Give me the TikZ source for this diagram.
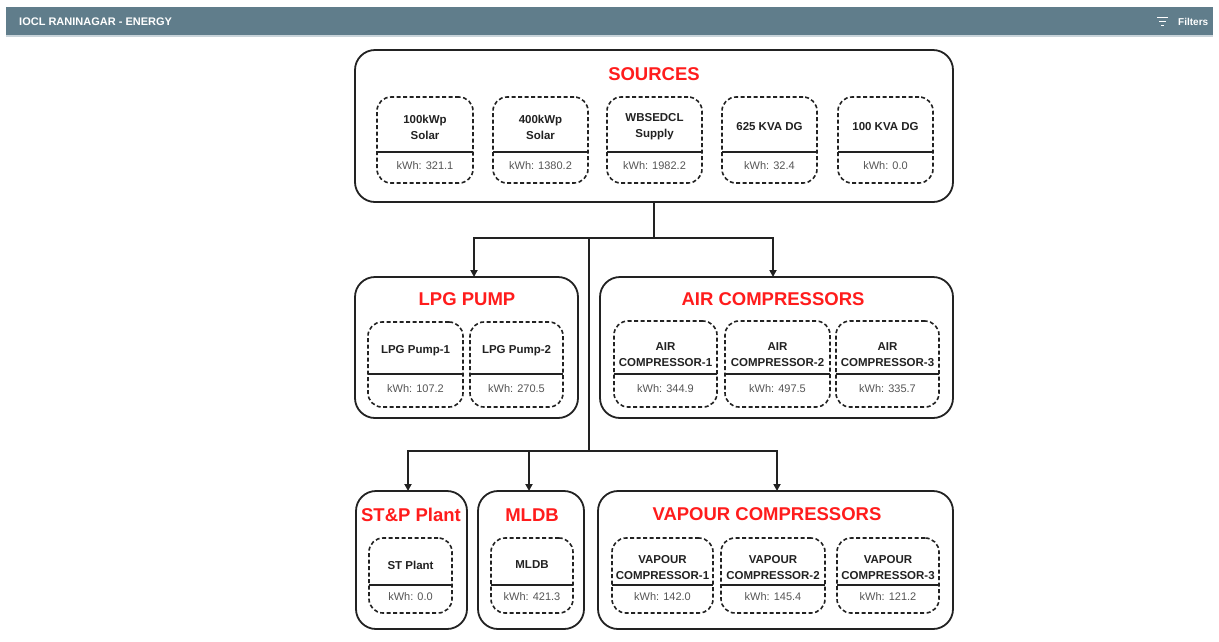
\documentclass[tikz,border=0pt]{standalone}
\usepackage{fontspec}
\setmainfont{Liberation Sans}
\usetikzlibrary{arrows.meta}
\definecolor{hdr}{HTML}{607D8B}
\definecolor{hdrline}{HTML}{C9D4DA}
\definecolor{ink}{HTML}{222222}
\definecolor{ttl}{HTML}{FF1C1C}
\definecolor{valc}{HTML}{555555}
\tikzset{
 outerbox/.style={draw=ink, line width=1.8pt, rounded corners=20pt, inner sep=0pt, outer sep=0pt},
 meterbox/.style={draw=ink, line width=1.6pt, dash pattern=on 4pt off 2.5pt, rounded corners=14pt, inner sep=0pt, outer sep=0pt},
 divline/.style={draw=ink, line width=1.8pt},
 conn/.style={draw=ink, line width=1.8pt},
 arr/.style={conn, -{Triangle[length=7pt,width=7pt]}},
 grouptitle/.style={text=ttl, font=\fontsize{18.5}{20}\selectfont\bfseries, inner sep=0pt},
 mlabel/.style={text=ink, font=\fontsize{11.5}{16}\selectfont\bfseries, align=center, inner sep=0pt},
 mval/.style={text=valc, font=\fontsize{11}{12}\selectfont, inner sep=0pt},
}
\newcommand\meterunit[9]{%
 \node[meterbox, minimum width={(#3-#2)*1pt}, minimum height={(#5-#4)*1pt}] (#1) at ({(#2+#3)/2},{(#4+#5)/2}) {};
 \draw[divline] (#1.west |- 0,#6) -- (#1.east |- 0,#6);
 \node[mlabel] (#1-l) at ({(#2+#3)/2},#7) {#8};
 \node[mval] (#1-v) at ({(#2+#3)/2},{(#6+#5)/2-2}) {#9};
}
\begin{document}
\begin{tikzpicture}[x=1pt,y=-1pt]
\useasboundingbox (0,0) rectangle (1219,641);
\fill[white] (0,0) rectangle (1219,641);
% header
\node[fill=hdr, inner sep=0pt, outer sep=0pt, minimum width=1207pt, minimum height=29pt] (bar) at (609.5,21.5) {};
\draw[hdrline, line width=1.2pt] (bar.south west) -- (bar.south east);
\node[anchor=west, text=white, font=\fontsize{11}{13}\selectfont\bfseries, inner sep=0pt] (ttlh) at (19,21.5) {IOCL RANINAGAR - ENERGY};
\node[anchor=west, text=white, font=\fontsize{10}{12}\selectfont\bfseries, inner sep=0pt] (filt) at (1178,21.5) {Filters};
\draw[white, line width=1.3pt] (1157,17.5) -- (1168,17.5) (1159,21.5) -- (1166,21.5) (1161,25.5) -- (1164,25.5);
% group boxes
\node[outerbox, minimum width=598pt, minimum height=152pt] (src) at (654,126) {};
\node[outerbox, minimum width=223pt, minimum height=141pt] (lpg) at (466.5,347.5) {};
\node[outerbox, minimum width=353pt, minimum height=141pt] (air) at (776.5,347.5) {};
\node[outerbox, minimum width=111pt, minimum height=138pt] (stp) at (411.5,560) {};
\node[outerbox, minimum width=106pt, minimum height=138pt] (mldb) at (531,560) {};
\node[outerbox, minimum width=355pt, minimum height=138pt] (vap) at (775.5,560) {};
% titles
\node[grouptitle] (srcT) at (654,74) {SOURCES};
\node[grouptitle] (lpgT) at (467,299) {LPG PUMP};
\node[grouptitle] (airT) at (773,299) {AIR COMPRESSORS};
\node[grouptitle] (stpT) at (411,515) {ST\&P Plant};
\node[grouptitle] (mldbT) at (532,515) {MLDB};
\node[grouptitle] (vapT) at (767,514) {VAPOUR COMPRESSORS};
% sources
\meterunit{s1}{377}{473}{97}{183}{152}{127}{100kWp\\Solar}{kWh: 321.1}
\meterunit{s2}{493}{588}{97}{183}{152}{127}{400kWp\\Solar}{kWh: 1380.2}
\meterunit{s3}{607}{702}{97}{183}{152}{127}{WBSEDCL\\Supply}{kWh: 1982.2}
\meterunit{s4}{722}{817}{97}{183}{152}{127}{625 KVA DG}{kWh: 32.4}
\meterunit{s5}{838}{933}{97}{183}{152}{127}{100 KVA DG}{kWh: 0.0}
% lpg
\meterunit{l1}{368}{463}{322}{407}{374}{351}{LPG Pump-1}{kWh: 107.2}
\meterunit{l2}{470}{563}{322}{407}{374}{351}{LPG Pump-2}{kWh: 270.5}
% air
\meterunit{a1}{614}{717}{321}{407}{374}{355}{AIR\\COMPRESSOR-1}{kWh: 344.9}
\meterunit{a2}{725}{830}{321}{407}{374}{355}{AIR\\COMPRESSOR-2}{kWh: 497.5}
\meterunit{a3}{836}{939}{321}{407}{374}{355}{AIR\\COMPRESSOR-3}{kWh: 335.7}
% bottom
\meterunit{p1}{369}{452}{538}{613}{585}{565}{ST Plant}{kWh: 0.0}
\meterunit{m1}{491}{573}{538}{613}{585}{565}{MLDB}{kWh: 421.3}
\meterunit{v1}{612}{713}{538}{613}{585}{567.5}{VAPOUR\\COMPRESSOR-1}{kWh: 142.0}
\meterunit{v2}{721}{825}{538}{613}{585}{567.5}{VAPOUR\\COMPRESSOR-2}{kWh: 145.4}
\meterunit{v3}{837}{939}{538}{613}{585}{567.5}{VAPOUR\\COMPRESSOR-3}{kWh: 121.2}
% connectors
\coordinate (j1) at (654,238);
\coordinate (j2) at (589,238);
\coordinate (j3) at (589,451);
\draw[conn] (src.south) -- (j1);
\draw[arr] (j1) -| (lpg.north -| 474,0);
\draw[arr] (j1) -| (air.north -| 773,0);
\draw[conn] (j2) -- (j3);
\draw[arr] (j3) -| (stp.north -| 408,0);
\draw[arr] (j3) -| (mldb.north -| 529,0);
\draw[arr] (j3) -| (vap.north -| 777,0);
\end{tikzpicture}
\end{document}
